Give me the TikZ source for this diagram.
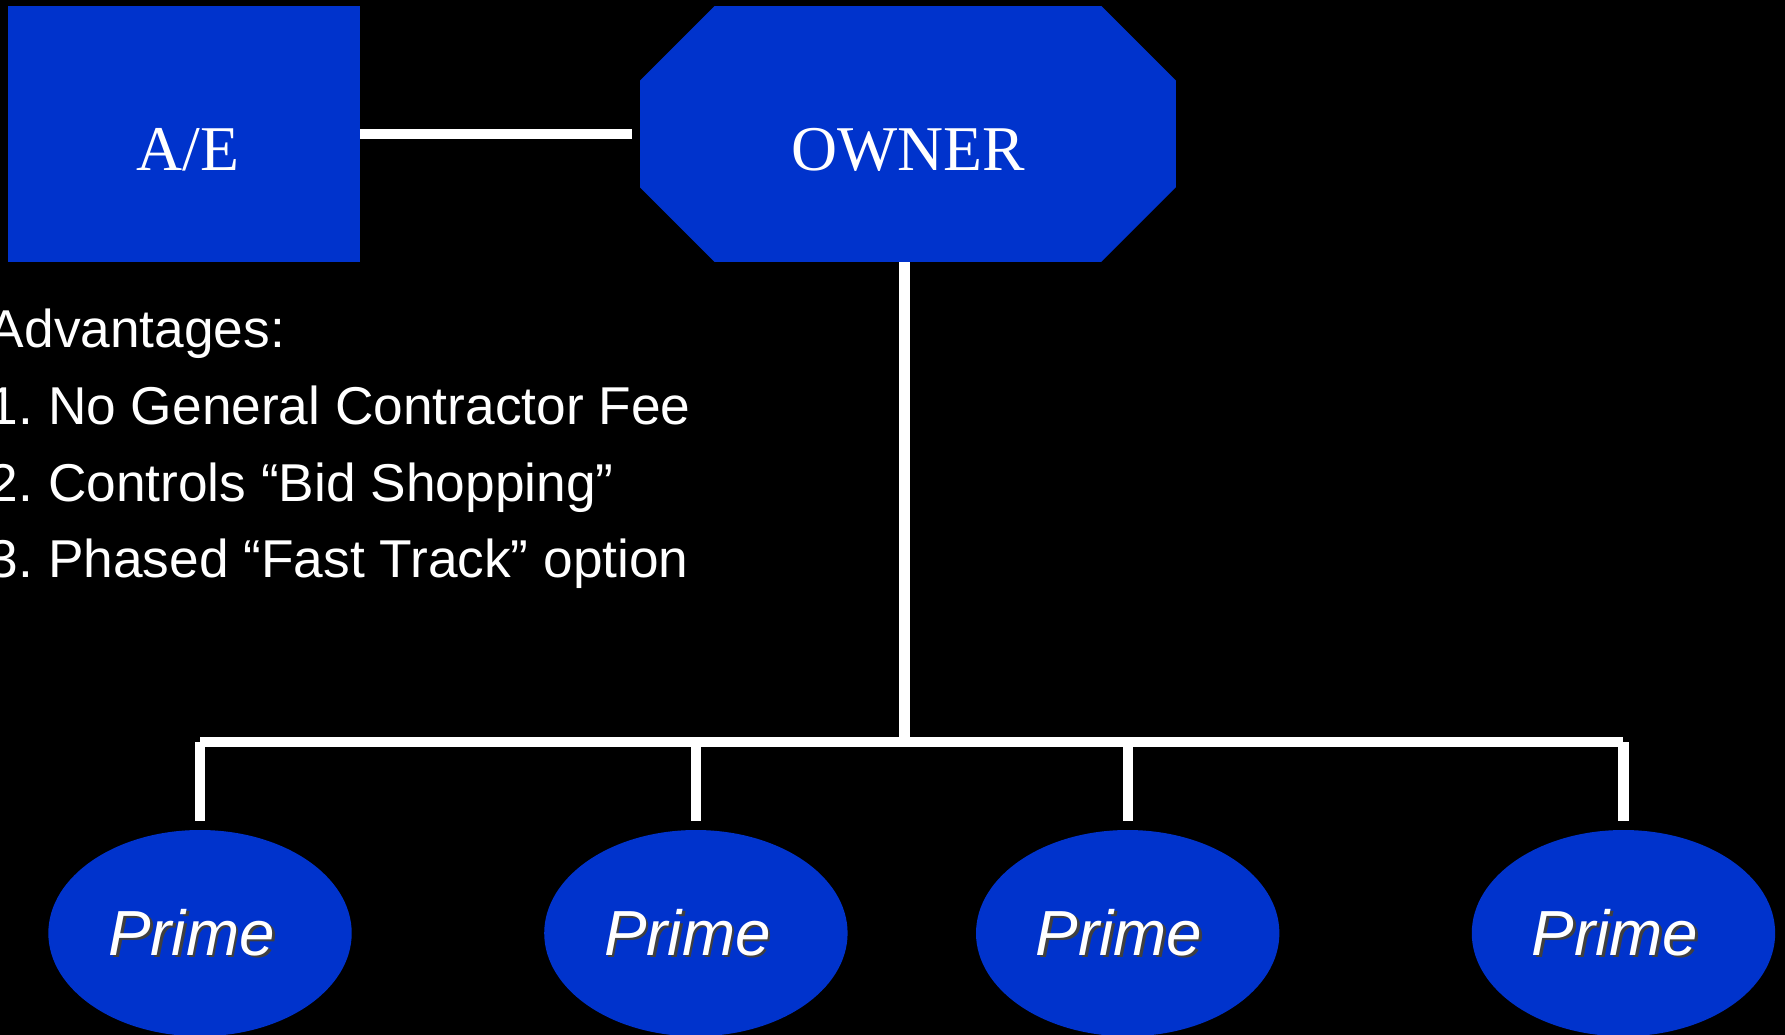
\documentclass[tikz,border=0pt]{standalone}
\usepackage{fontspec}
\setmainfont{Liberation Serif}
\setsansfont{Liberation Sans}
\usetikzlibrary{shapes.geometric}
\definecolor{slideblue}{RGB}{0,51,204}
% white text with a soft dark copy set behind it, down and to the right
\newcommand\shadowedtext[1]{\makebox[0pt][l]{\hspace*{2.5pt}\raisebox{-2.5pt}{\textcolor{black!75}{#1}}}#1}
\begin{document}
\frenchspacing
\begin{tikzpicture}[x=1pt,y=-1pt,
  conn/.style={draw=white,line width=9pt},
  headfont/.style={font=\fontsize{56}{60}\selectfont, text=white, text height=64.7pt, text depth=0pt},
  aebox/.style={rectangle, fill=slideblue, minimum width=309pt, minimum height=224.7pt, inner sep=0pt, headfont},
  octbox/.style={rectangle, minimum width=470.8pt, minimum height=224.7pt, inner sep=0pt, headfont,
    path picture={
      \fill[slideblue]
        ([xshift=65.5pt]path picture bounding box.north west) --
        ([xshift=-65.5pt]path picture bounding box.north east) --
        ([yshift=-65.5pt]path picture bounding box.north east) --
        ([yshift=65.5pt]path picture bounding box.south east) --
        ([xshift=-65.5pt]path picture bounding box.south east) --
        ([xshift=65.5pt]path picture bounding box.south west) --
        ([yshift=65.5pt]path picture bounding box.south west) --
        ([yshift=-65.5pt]path picture bounding box.north west) -- cycle;}},
  primeoval/.style={ellipse, fill=slideblue, minimum width=266.5pt, minimum height=181.2pt, inner sep=0pt,
    text=white, font=\fontsize{56}{60}\selectfont\sffamily\itshape, text height=38.6pt, text depth=0pt},
  advtext/.style={anchor=base west, inner sep=0pt, text=white, font=\fontsize{46.8}{50}\selectfont\sffamily}
]
\fill[black] (0,0) rectangle (1568,909);
\useasboundingbox (0,0) rectangle (1568,909);

% top row
\node[aebox] (ae) at (161.5,117.65) {\kern7pt A/E};
\node[octbox] (owner) at (797.6,117.65) {\kern1pt OWNER};

% list of advantages
\node[advtext] (adv0) at (-10,305) {Advantages:};
\node[advtext] (adv1) at (-10,373) {1. No General Contractor Fee};
\node[advtext] (adv2) at (-10,440.5) {2. Controls “Bid Shopping”};
\node[advtext] (adv3) at (-10,507.5) {3. Phased “Fast Track” option};

% prime contractors
\node[primeoval] (p1) at (175.7,819.7) {\shadowedtext{Prime}\kern15pt};
\node[primeoval] (p2) at (611.3,819.7) {\shadowedtext{Prime}\kern15pt};
\node[primeoval] (p3) at (990.6,819.7) {\shadowedtext{Prime}\kern15pt};
\node[primeoval] (p4) at (1426.1,819.7) {\shadowedtext{Prime}\kern15pt};

% connectors
\coordinate (bus) at (794.5,651.8);
\draw[conn] (ae.east) -- ([xshift=-7pt]owner.west);
\draw[conn] ([xshift=-3.1pt]owner.south) -- ([xshift=-3.1pt]owner.south |- bus);
\draw[conn] (p1.north |- bus) -- (p4.north |- bus);
\foreach \p in {p1,p2,p3,p4}
  \draw[conn] (\p.north |- bus) -- ([yshift=7.3pt]\p.north);
\end{tikzpicture}
\end{document}
